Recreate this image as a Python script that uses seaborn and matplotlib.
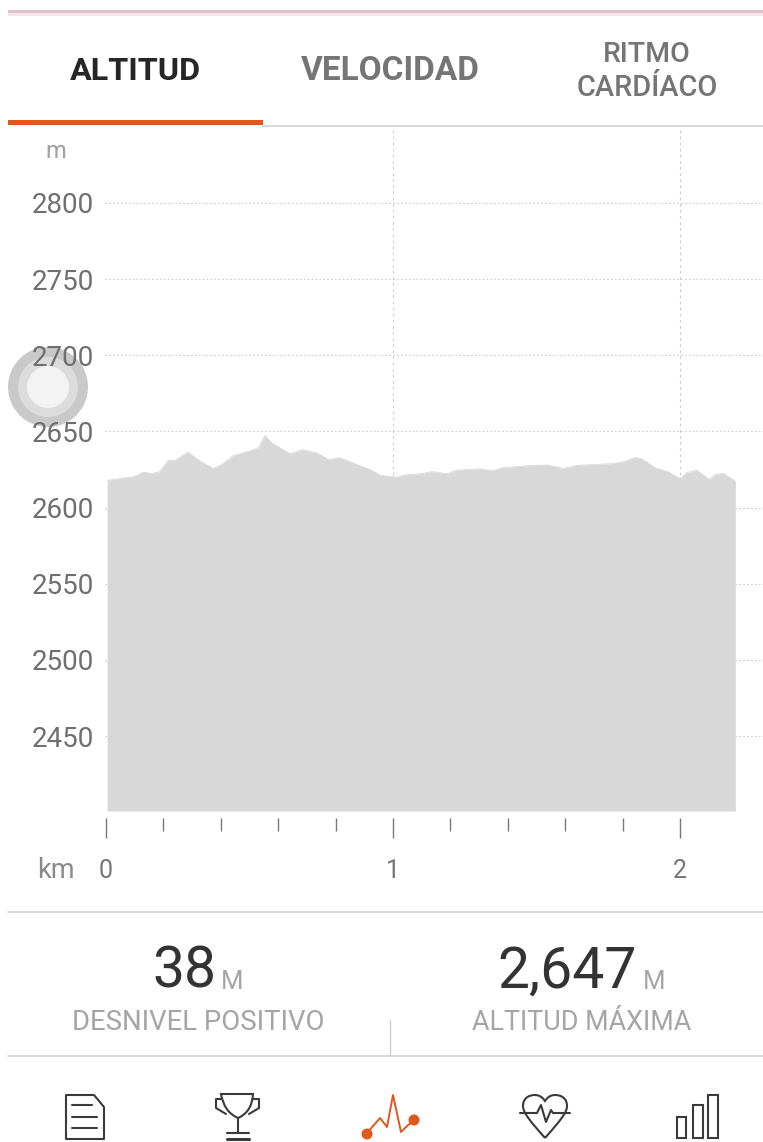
import numpy as np
import pandas as pd
import matplotlib
matplotlib.use("Agg")
import matplotlib.pyplot as plt
import seaborn as sns
from matplotlib.patches import Circle, PathPatch, Polygon, Rectangle
from matplotlib.path import Path
from matplotlib.ticker import FixedLocator, NullFormatter

sns.set_style("white")
plt.rcParams["font.family"] = ["Roboto", "DejaVu Sans"]

# profile
km = [0.004, 0.049, 0.095, 0.130, 0.159, 0.186, 0.217, 0.240, 0.285, 0.328,
      0.374, 0.403, 0.444, 0.490, 0.531, 0.554, 0.577, 0.641, 0.682, 0.734,
      0.775, 0.815, 0.874, 0.920, 0.955, 1.013, 1.048, 1.094, 1.135, 1.187,
      1.222, 1.303, 1.344, 1.385, 1.489, 1.541, 1.593, 1.640, 1.756, 1.802,
      1.843, 1.867, 1.913, 1.959, 2.000, 2.023, 2.058, 2.102, 2.122, 2.151,
      2.193]
altitude = [2617.8, 2619.1, 2620.2, 2623.3, 2622.4, 2623.5, 2631.1, 2631.1, 2636.4, 2630.5,
            2625.7, 2628.3, 2634.2, 2636.6, 2639.3, 2647.5, 2642.5, 2635.3, 2638.1, 2636.0,
            2631.6, 2632.7, 2628.3, 2625.0, 2621.3, 2620.0, 2621.6, 2622.2, 2623.7, 2622.2,
            2624.6, 2625.5, 2624.2, 2626.3, 2627.7, 2627.9, 2625.7, 2627.7, 2628.8, 2630.1,
            2632.9, 2632.0, 2626.1, 2623.5, 2618.9, 2622.9, 2624.6, 2618.5, 2621.8, 2622.4,
            2617.4]
y_ticks = [2450, 2500, 2550, 2600, 2650, 2700, 2750, 2800]
x_ticks = [0, 1, 2]
x_minor = [0.2, 0.4, 0.6, 0.8, 1.2, 1.4, 1.6, 1.8]
x_grid = [1, 2]

W, H = 763, 1142
GREY_TXT = "#6f6f6f"
ORANGE = "#e0581c"
LINE = "#cfcfcf"
ICON = "#3a3a3a"

df = pd.DataFrame({"km": km, "altitude": altitude})

fig = plt.figure(figsize=(W / 100, H / 100), dpi=100, facecolor="white")

# overlay in pixel coordinates for the app chrome, sits under the chart
ui = fig.add_axes([0, 0, 1, 1], zorder=0)
ui.set_xlim(0, W)
ui.set_ylim(H, 0)
ui.axis("off")

# chart axes
ax = fig.add_axes([105 / W, 1 - 811 / H, (W - 105) / W, (811 - 126) / H], zorder=1)
ax.patch.set_alpha(0)
ax.set_xlim(-0.0035, 2.2892)
ax.set_ylim(2400.85, 2850.5)

ax.fill_between(df["km"], df["altitude"], 2400.85, color="#d8d8d8", lw=0, zorder=3)
sns.lineplot(data=df, x="km", y="altitude", color="#d8d8d8", lw=0.6, ax=ax, zorder=3)
ax.set_xlabel("")
ax.set_ylabel("")

ax.set_yticks(y_ticks)
ax.set_xticks(x_ticks)
ax.xaxis.set_minor_locator(FixedLocator(x_minor))
ax.xaxis.set_minor_formatter(NullFormatter())
ax.tick_params(axis="y", length=0, pad=8, labelsize=20, labelcolor=GREY_TXT)
ax.tick_params(axis="x", which="major", bottom=True, length=14.4, width=1, color="#777777",
               pad=15.5, labelsize=18, labelcolor="#777777")
ax.tick_params(axis="x", which="minor", bottom=True, length=9, width=1, color="#777777")

for s in ax.spines.values():
    s.set_visible(False)
ax.spines["bottom"].set_position(("outward", 5))

ax.hlines(y_ticks, -0.0035, 2.2892, color="#cdcdcd", lw=0.8, ls=(0, (1.5, 2)), zorder=1)
ax.vlines(x_grid, 2400.85, 2850.5, color="#cdcdcd", lw=0.8, ls=(0, (2.5, 3)), zorder=1)

# top bar and tabs
ui.add_patch(Rectangle((8, 10), W - 8, 3, color="#e2c2c8", lw=0))
ui.add_patch(Rectangle((8, 13), W - 8, 3, color="#f3e6e8", lw=0))
ui.add_patch(Rectangle((8, 120), 255, 5, color=ORANGE, lw=0))
ui.plot([263, W], [125.5, 125.5], color=LINE, lw=1.2)
ui.text(135, 71, "ALTITUD", ha="center", va="center", fontsize=23.3, weight="bold", color="#262626")
ui.text(390, 71, "VELOCIDAD", ha="center", va="center", fontsize=24, weight="bold", color="#757575")
ui.text(647, 55, "RITMO", ha="center", va="center", fontsize=20.5, weight="medium", color="#757575")
ui.text(647, 88, "CARDÍACO", ha="center", va="center", fontsize=20.8, weight="medium", color="#757575")
ui.text(56, 152, "m", ha="center", va="center", fontsize=17, color="#a0a0a0")
ui.text(56, 871, "km", ha="center", va="center", fontsize=19.5, color="#8a8a8a")

# touch marker behind the 2700 label
ui.add_patch(Circle((48, 387), 40, color="#c9c9c9", lw=0))
ui.add_patch(Circle((48, 387), 30, color="#dcdcdc", lw=0))
ui.add_patch(Circle((48, 387), 21, color="#f3f3f3", lw=0))

# stats block
ui.plot([8, W], [912, 912], color=LINE, lw=1.2)
ui.plot([8, W], [1055.5, 1055.5], color=LINE, lw=1.2)
ui.plot([390, 390], [1020, 1055], color=LINE, lw=1)
ui.text(184, 972, "38", ha="center", va="center", fontsize=41, color="#333333")
ui.text(232, 982, "M", ha="center", va="center", fontsize=18.5, color="#a5a5a5")
ui.text(567, 972, "2,647", ha="center", va="center", fontsize=41, color="#333333")
ui.text(654, 982, "M", ha="center", va="center", fontsize=18.5, color="#a5a5a5")
ui.text(198, 1022, "DESNIVEL POSITIVO", ha="center", va="center", fontsize=19.8, color="#a5a5a5")
ui.text(582, 1022, "ALTITUD MÁXIMA", ha="center", va="center", fontsize=19.4, color="#a5a5a5")

# bottom icons
lw_icon = 1.5
ui.add_patch(Polygon([(66, 1095), (94, 1095), (104, 1107), (104, 1139), (66, 1139)],
                     closed=True, fill=False, ec=ICON, lw=lw_icon, joinstyle="round"))
for yy in [1105, 1117, 1128]:
    ui.plot([72, 97] if yy > 1105 else [72, 92], [yy, yy], color=ICON, lw=lw_icon)

cup = Path([(221, 1094), (253, 1094), (253, 1094), (252, 1112), (238, 1118),
            (224, 1112), (221, 1094), (221, 1094)],
           [Path.MOVETO, Path.LINETO, Path.LINETO, Path.CURVE3, Path.CURVE3,
            Path.CURVE3, Path.CURVE3, Path.CLOSEPOLY])
ui.add_patch(PathPatch(cup, fill=False, ec=ICON, lw=lw_icon))
ui.plot([221, 216, 216, 226], [1099, 1099, 1108, 1114], color=ICON, lw=lw_icon)
ui.plot([253, 259, 259, 249], [1099, 1099, 1108, 1114], color=ICON, lw=lw_icon)
ui.plot([238, 238], [1118, 1133], color=ICON, lw=lw_icon)
ui.plot([227, 249], [1133, 1133], color=ICON, lw=lw_icon)
ui.plot([227, 249], [1139, 1139], color=ICON, lw=2.2)

ui.plot([367, 380, 387, 393, 401, 406, 414], [1133, 1118, 1127, 1095, 1132, 1127, 1120],
        color=ORANGE, lw=1.4)
ui.add_patch(Circle((367, 1134), 5.5, color=ORANGE, lw=0))
ui.add_patch(Circle((414, 1120), 5.5, color=ORANGE, lw=0))

heart = Path([(545, 1138), (531, 1122), (523, 1113), (523, 1106), (523, 1098), (529, 1095),
              (535, 1095), (540, 1095), (543, 1098), (545, 1101), (547, 1098), (550, 1095),
              (555, 1095), (561, 1095), (567, 1098), (567, 1106), (567, 1113), (559, 1122),
              (545, 1138)],
             [Path.MOVETO, Path.CURVE4, Path.CURVE4, Path.CURVE4, Path.CURVE4, Path.CURVE4,
              Path.CURVE4, Path.CURVE4, Path.CURVE4, Path.CURVE4, Path.CURVE4, Path.CURVE4,
              Path.CURVE4, Path.CURVE4, Path.CURVE4, Path.CURVE4, Path.CURVE4, Path.CURVE4,
              Path.CURVE4])
ui.add_patch(PathPatch(heart, fill=False, ec=ICON, lw=lw_icon))
ui.plot([520, 537, 541, 546, 551, 553, 570], [1113, 1113, 1105, 1122, 1110, 1113, 1113],
        color=ICON, lw=lw_icon)

for x0, x1, top in [(677, 686, 1117), (693, 703, 1105), (708, 718, 1095)]:
    ui.add_patch(Rectangle((x0, top), x1 - x0, 1138 - top, fill=False, ec=ICON, lw=lw_icon))

fig.savefig("out.png", dpi=100, facecolor="white")
